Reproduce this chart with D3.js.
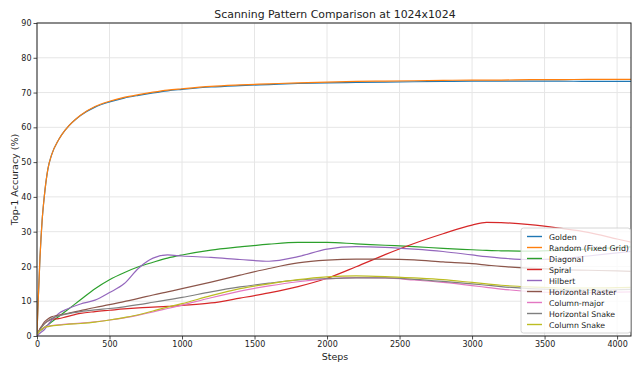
<!DOCTYPE html>
<html>
<head>
<meta charset="utf-8">
<script src="https://cdn.jsdelivr.net/npm/d3@7"></script>
<style>
  body { margin: 0; background: #fff; }
  svg text { font-family: "DejaVu Sans", sans-serif; fill: #222; }
</style>
</head>
<body>
<div id="vis"></div>
<script>
// steps shared by every run
var steps = [0, 10, 20, 35, 50, 75, 100, 150, 200, 300, 400, 500, 600, 700, 800, 900, 1000, 1200, 1400, 1600, 1800, 2000, 2200, 2400, 2600, 2800, 3000, 3100, 3200, 3400, 3600, 3800, 4000, 4096];

var golden      = [1, 12, 22, 33, 40, 48, 52, 56.5, 59.5, 63.4, 65.8, 67.3, 68.4, 69.2, 69.9, 70.5, 70.9, 71.6, 72.0, 72.3, 72.6, 72.8, 72.9, 73.0, 73.1, 73.2, 73.3, 73.3, 73.3, 73.3, 73.3, 73.2, 73.2, 73.2];
var randomGrid  = [1, 12, 22, 33, 40, 48, 52, 56.5, 59.5, 63.5, 66.0, 67.5, 68.6, 69.4, 70.1, 70.7, 71.1, 71.8, 72.2, 72.5, 72.8, 73.0, 73.2, 73.3, 73.4, 73.5, 73.6, 73.6, 73.6, 73.7, 73.7, 73.8, 73.8, 73.8];
var diagonal    = [0.5, 1.0, 1.5, 1.9, 2.4, 3.2, 4.0, 5.6, 7.2, 10.4, 13.6, 16.2, 18.2, 19.9, 21.2, 22.4, 23.3, 24.7, 25.6, 26.4, 26.9, 26.9, 26.5, 26.1, 25.7, 25.2, 24.8, 24.6, 24.5, 24.4, 24.6, 25.0, 25.4, 25.6];
var spiral      = [0.5, 1.2, 2.0, 2.8, 3.5, 4.3, 4.8, 5.0, 5.5, 6.5, 7.0, 7.4, 7.8, 8.1, 8.3, 8.5, 8.8, 9.5, 10.9, 12.4, 14.2, 16.6, 19.9, 23.4, 26.6, 29.4, 31.9, 32.7, 32.6, 32.0, 31.0, 29.8, 27.9, 27.0];
var hilbert     = [0, 0.4, 0.8, 1.3, 1.8, 3.2, 4.5, 6.5, 7.6, 9.2, 10.3, 12.5, 15.0, 19.5, 22.4, 23.3, 23.0, 22.6, 22.0, 21.5, 22.8, 25.0, 25.7, 25.5, 25.0, 24.3, 23.3, 22.8, 22.4, 22.0, 22.2, 23.0, 23.9, 24.3];
var hRaster     = [0.5, 1.2, 2.0, 3.0, 4.0, 4.9, 5.5, 6.0, 6.4, 7.3, 8.2, 9.0, 9.9, 10.8, 11.8, 12.7, 13.6, 15.5, 17.5, 19.4, 21.0, 21.8, 22.1, 22.1, 21.9, 21.3, 20.8, 20.4, 20.0, 19.5, 19.1, 18.9, 18.7, 18.6];
var colMajor    = [0.5, 1.0, 1.5, 2.0, 2.5, 2.8, 3.0, 3.2, 3.4, 3.7, 4.1, 4.6, 5.2, 6.0, 6.9, 7.9, 8.9, 11.0, 12.9, 14.4, 15.6, 16.4, 16.8, 16.7, 16.1, 15.4, 14.5, 14.0, 13.5, 12.8, 12.5, 12.5, 12.6, 12.7];
var hSnake      = [0.5, 1.1, 1.8, 2.7, 3.5, 4.3, 5.0, 5.8, 6.3, 7.0, 7.5, 7.9, 8.4, 9.0, 9.7, 10.4, 11.1, 12.7, 14.1, 15.2, 16.1, 16.5, 16.7, 16.7, 16.3, 15.7, 15.0, 14.6, 14.2, 13.6, 13.3, 13.2, 13.3, 13.4];
var colSnake    = [0.5, 1.0, 1.5, 2.0, 2.5, 2.7, 2.9, 3.1, 3.3, 3.6, 4.0, 4.6, 5.3, 6.1, 7.2, 8.3, 9.3, 11.6, 13.6, 15.0, 16.2, 17.0, 17.3, 17.1, 16.7, 16.2, 15.4, 15.0, 14.6, 14.1, 13.8, 13.8, 13.9, 14.0];

var seriesNames = ["Golden", "Random (Fixed Grid)", "Diagonal", "Spiral", "Hilbert", "Horizontal Raster", "Column-major", "Horizontal Snake", "Column Snake"];
var seriesValues = [golden, randomGrid, diagonal, spiral, hilbert, hRaster, colMajor, hSnake, colSnake];
var colors = ["#1f77b4", "#ff7f0e", "#2ca02c", "#d62728", "#9467bd", "#8c564b", "#e377c2", "#7f7f7f", "#bcbd22"];

var xTicks = [0, 500, 1000, 1500, 2000, 2500, 3000, 3500, 4000];
var yTicks = [0, 10, 20, 30, 40, 50, 60, 70, 80, 90];

var width = 632, height = 365;
var margin = {top: 23, right: 1, bottom: 29, left: 37};

var svg = d3.select("#vis").append("svg").attr("width", width).attr("height", height);

var x = d3.scaleLinear().domain([0, 4096]).range([margin.left, width - margin.right]);
var y = d3.scaleLinear().domain([0, 90]).range([height - margin.bottom, margin.top]);

// grid
svg.append("g").selectAll("line").data(xTicks).join("line")
    .attr("x1", d => x(d)).attr("x2", d => x(d))
    .attr("y1", y(0)).attr("y2", y(90))
    .style("stroke", "#e6e6e6").style("stroke-width", 1);
svg.append("g").selectAll("line").data(yTicks).join("line")
    .attr("x1", x(0)).attr("x2", x(4096))
    .attr("y1", d => y(d)).attr("y2", d => y(d))
    .style("stroke", "#e6e6e6").style("stroke-width", 1);

svg.append("clipPath").attr("id", "clip").append("rect")
    .attr("x", x(0)).attr("y", y(90)).attr("width", x(4096) - x(0)).attr("height", y(0) - y(90));

var line = d3.line().curve(d3.curveMonotoneX);

var lines = svg.append("g").attr("clip-path", "url(#clip)");
seriesValues.forEach(function(vals, i) {
  lines.append("path")
      .attr("d", line(steps.map((s, k) => [x(s), y(vals[k])])))
      .style("fill", "none")
      .style("stroke", colors[i])
      .style("stroke-width", 1.2);
});

// axes
var xAxis = svg.append("g").attr("transform", "translate(0," + y(0) + ")")
    .call(d3.axisBottom(x).tickValues(xTicks).tickFormat(d3.format("d")).tickSize(3.5).tickPadding(2));
var yAxis = svg.append("g").attr("transform", "translate(" + x(0) + ",0)")
    .call(d3.axisLeft(y).tickValues(yTicks).tickFormat(d3.format("d")).tickSize(3.5).tickPadding(2));
[xAxis, yAxis].forEach(function(a) {
  a.select(".domain").remove();
  a.selectAll("text").style("font-size", "8px").style("font-family", "DejaVu Sans").style("fill", "#222");
  a.selectAll("line").style("stroke", "#222").style("stroke-width", 0.8);
});

// frame
svg.append("rect")
    .attr("x", x(0)).attr("y", y(90))
    .attr("width", x(4096) - x(0)).attr("height", y(0) - y(90))
    .style("fill", "none").style("stroke", "#222").style("stroke-width", 1);

// titles
svg.append("text").attr("x", 335).attr("y", 18).attr("text-anchor", "middle")
    .style("font-size", "10.9px").text("Scanning Pattern Comparison at 1024x1024");
svg.append("text").attr("x", 335).attr("y", 360).attr("text-anchor", "middle")
    .style("font-size", "9.5px").text("Steps");
svg.append("text").attr("transform", "translate(18," + ((y(0) + y(90)) / 2) + ") rotate(-90)")
    .attr("text-anchor", "middle").style("font-size", "9.5px").text("Top-1 Accuracy (%)");

// legend
var legend = svg.append("g").attr("transform", "translate(521,228)");
legend.append("rect").attr("width", 109.5).attr("height", 105).attr("rx", 2.5)
    .style("fill", "white").style("fill-opacity", 0.8)
    .style("stroke", "#cccccc").style("stroke-width", 0.8);
seriesNames.forEach(function(name, i) {
  var g = legend.append("g").attr("transform", "translate(0," + (8.5 + i * 11) + ")");
  g.append("line").attr("x1", 6).attr("x2", 21).attr("y1", 0).attr("y2", 0)
      .style("stroke", colors[i]).style("stroke-width", 1.4);
  g.append("text").attr("x", 28).attr("y", 3).style("font-size", "7.8px").text(name);
});
</script>
</body>
</html>
